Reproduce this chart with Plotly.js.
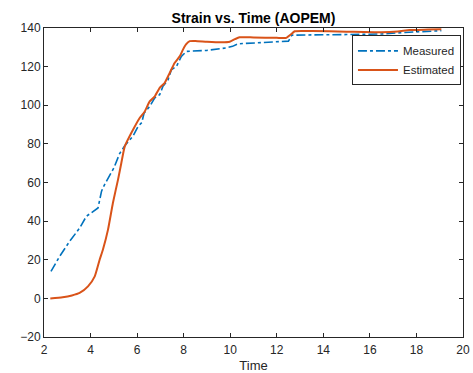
<!DOCTYPE html>
<html>
<head>
<meta charset="utf-8">
<script src="https://cdn.plot.ly/plotly-3.0.1.min.js"></script>
<style>html,body{margin:0;padding:0;background:#fff;}#chart{width:473px;height:373px;}</style>
</head>
<body>
<div id="chart"></div>
<script>
const measuredTime = [2.3, 2.67, 3.1, 3.53, 3.82, 4.1, 4.32, 4.47, 4.53, 4.68, 5.0, 5.25, 5.47, 5.82, 6.04, 6.2, 6.3, 6.54, 6.76, 6.97, 7.11, 7.33, 7.47, 7.69, 7.9, 8.12, 8.5, 9.0, 9.83, 10.1, 10.33, 11.0, 12.12, 12.5, 12.65, 13.0, 14.0, 15.0, 16.0, 16.5, 17.5, 18.5, 19.07];
const measuredStrain = [14, 21.7, 29.5, 36.4, 42.5, 45, 46.8, 55.4, 57.2, 60.6, 67.5, 75, 79, 84, 89, 91, 96, 99.4, 103.8, 105.5, 109.8, 113.2, 118.4, 120.1, 125.3, 127.9, 128.2, 128.4, 129.7, 130.5, 131.8, 132.3, 132.8, 133.2, 136.3, 136.4, 136.5, 136.6, 136.7, 136.9, 137.7, 138.3, 138.6];

const estimatedTime = [2.27, 2.8, 3.2, 3.53, 3.89, 4.18, 4.39, 4.53, 4.75, 4.96, 5.18, 5.32, 5.47, 5.75, 6.11, 6.33, 6.54, 6.76, 6.97, 7.18, 7.4, 7.61, 7.83, 7.97, 8.1, 8.26, 8.5, 9.0, 9.6, 9.98, 10.2, 10.4, 11.0, 12.0, 12.41, 12.6, 12.77, 13.5, 15.0, 16.5, 17.2, 17.7, 18.5, 19.07];
const estimatedStrain = [0, 0.6, 1.5, 2.8, 6.2, 11.4, 20, 25.2, 35.6, 49.4, 61.5, 70, 78.7, 85.6, 93.4, 96.8, 102, 104.6, 109, 111.5, 116.7, 121.9, 125.3, 128.8, 131.5, 133.2, 133.3, 132.9, 132.6, 132.9, 134.2, 135.2, 135.1, 134.9, 134.9, 136.6, 138.3, 138.4, 138.1, 137.8, 138.2, 138.9, 139.2, 139.4];

const seriesNames = ["Measured", "Estimated"];
const titleText = "Strain vs. Time (AOPEM)";
const xTitle = "Time";

const axisColor = "#262626";
const traces = [
  {x: measuredTime, y: measuredStrain, name: seriesNames[0], mode: "lines",
   line: {color: "#0072BD", width: 1.6, dash: "dashdot"}},
  {x: estimatedTime, y: estimatedStrain, name: seriesNames[1], mode: "lines",
   line: {color: "#D95319", width: 2, shape: "spline", smoothing: 0.5}}
];
const layout = {
  width: 473, height: 373,
  margin: {l: 44, r: 10, t: 28, b: 36},
  paper_bgcolor: "#fff", plot_bgcolor: "#fff",
  font: {family: "Liberation Sans, Arial, sans-serif", size: 12, color: axisColor},
  title: {text: "<b>" + titleText + "</b>", x: 0.5, xref: "paper", y: 1, yref: "paper", yanchor: "bottom", pad: {b: 5},
          font: {size: 14, color: "#000"}},
  showlegend: true,
  legend: {x: 0.735, y: 0.976, xanchor: "left", yanchor: "top", bordercolor: axisColor, borderwidth: 1,
           bgcolor: "#fff", font: {size: 11.5, color: axisColor}, tracegroupgap: 0, itemwidth: 40},
  xaxis: {range: [2, 20], dtick: 2, tick0: 2, ticks: "inside", ticklen: 4, tickcolor: axisColor,
          showline: true, linecolor: axisColor, linewidth: 1, mirror: "ticks", showgrid: false, zeroline: false,
          automargin: false, ticklabelstandoff: 2,
          title: {text: xTitle, standoff: 6, font: {size: 13, color: axisColor}}},
  yaxis: {range: [-20, 140], dtick: 20, tick0: -20, ticks: "inside", ticklen: 4, tickcolor: axisColor,
          showline: true, linecolor: axisColor, linewidth: 1, mirror: "ticks", showgrid: false, zeroline: false,
          automargin: false}
};
Plotly.newPlot("chart", traces, layout, {displayModeBar: false, staticPlot: true});
</script>
</body>
</html>
